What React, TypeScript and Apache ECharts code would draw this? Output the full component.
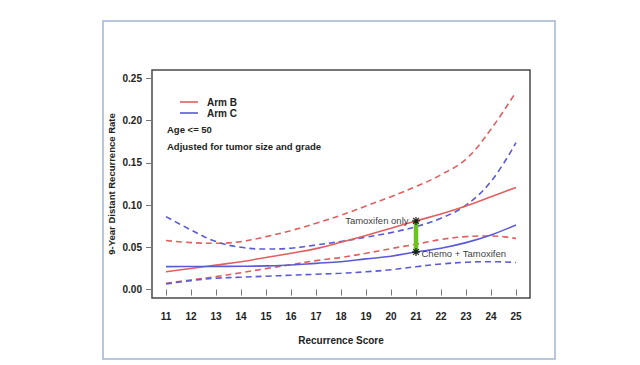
import React, { useEffect, useRef } from "react";
import * as echarts from "echarts";

const scores = [11, 12, 13, 14, 15, 16, 17, 18, 19, 20, 21, 22, 23, 24, 25];
const armBFit = [0.021, 0.025, 0.029, 0.033, 0.038, 0.043, 0.0485, 0.056, 0.064, 0.0726, 0.0813, 0.0896, 0.099, 0.11, 0.121];
const armBLower = [0.0075, 0.0114, 0.0153, 0.02, 0.0248, 0.0295, 0.0343, 0.038, 0.043, 0.0485, 0.0537, 0.0593, 0.0627, 0.0635, 0.0605];
const armBUpper = [0.058, 0.0556, 0.0548, 0.0568, 0.0627, 0.0698, 0.0785, 0.088, 0.099, 0.11, 0.122, 0.136, 0.1545, 0.19, 0.234];
const armCFit = [0.0272, 0.0273, 0.0274, 0.0276, 0.028, 0.029, 0.031, 0.033, 0.0363, 0.0395, 0.0445, 0.049, 0.0556, 0.0647, 0.0765];
const armCLower = [0.0066, 0.0106, 0.0134, 0.0146, 0.0158, 0.017, 0.0181, 0.0193, 0.021, 0.0235, 0.027, 0.0303, 0.0323, 0.033, 0.032];
const armCUpper = [0.0864, 0.0706, 0.0568, 0.05, 0.048, 0.049, 0.0528, 0.057, 0.062, 0.0674, 0.0745, 0.0845, 0.1, 0.128, 0.174];
const yTicks = [0, 0.05, 0.1, 0.15, 0.2, 0.25];
const xTicks = scores;
const highlightScore = 21;
const seriesNames = ["Arm B", "Arm C"];
const noteLines = ["Age <= 50", "Adjusted for tumor size and grade"];
const pointLabels = ["Tamoxifen only", "Chemo + Tamoxifen"];
const axisNames = ["Recurrence Score", "9-Year Distant Recurrence Rate"];

const RED = "#e0605f";
const BLUE = "#5a5ad6";
const FONT = "'Liberation Sans', Arial, sans-serif";

const pairs = (ys: number[]) => scores.map((x, i) => [x, ys[i]]);

export default function App() {
  const ref = useRef<HTMLDivElement>(null);
  useEffect(() => {
    if (!ref.current) return;
    const chart = echarts.init(ref.current, undefined, { renderer: "svg" });
    const hi = scores.indexOf(highlightScore);
    const topVal = armBFit[hi];
    const botVal = armCFit[hi];
    const dashed = (name: string, data: number[], color: string) => ({
      name,
      type: "line",
      data: pairs(data),
      smooth: 0.4,
      showSymbol: false,
      symbol: "none",
      lineStyle: { color, width: 1.6, type: [6, 4] },
      itemStyle: { color },
      z: 2,
    });
    chart.setOption({
      animation: false,
      backgroundColor: "#ffffff",
      textStyle: { fontFamily: FONT },
      grid: {
        left: 152,
        top: 70,
        width: 378,
        height: 228,
        show: true,
        borderColor: "#4a4a4a",
        borderWidth: 1.5,
        backgroundColor: "#ffffff",
        containLabel: false,
      },
      legend: {
        data: seriesNames.map((n) => ({ name: n, icon: "rect" })),
        orient: "vertical",
        left: 175,
        top: 92,
        itemWidth: 18,
        itemHeight: 1.6,
        itemGap: 1,
        textStyle: { fontFamily: FONT, fontSize: 10, fontWeight: "bold", color: "#222", padding: [0, 0, 0, 4] },
      },
      xAxis: {
        type: "value",
        min: 10.44,
        max: 25.56,
        name: axisNames[0],
        nameLocation: "middle",
        nameGap: 37,
        nameMoveOverlap: false,
        nameTextStyle: { fontFamily: FONT, fontSize: 10, fontWeight: "bold", color: "#222" },
        axisLine: { show: false },
        splitLine: { show: false },
        axisTick: { show: true, customValues: xTicks, length: 6, lineStyle: { color: "#777", width: 1 } },
        axisLabel: {
          customValues: xTicks,
          formatter: (v: number) => String(Math.round(v)),
          margin: 13,
          fontFamily: FONT,
          fontSize: 10,
          fontWeight: "bold",
          color: "#222",
        },
      },
      yAxis: {
        type: "value",
        min: -0.01,
        max: 0.26,
        name: axisNames[1],
        nameLocation: "middle",
        nameRotate: 90,
        nameGap: 36,
        nameMoveOverlap: false,
        nameTextStyle: { fontFamily: FONT, fontSize: 9.5, fontWeight: "bold", color: "#222" },
        axisLine: { show: false },
        splitLine: { show: false },
        axisTick: { show: true, customValues: yTicks, length: 6, lineStyle: { color: "#777", width: 1 } },
        axisLabel: {
          customValues: yTicks,
          formatter: (v: number) => v.toFixed(2),
          margin: 10,
          fontFamily: FONT,
          fontSize: 10,
          fontWeight: "bold",
          color: "#222",
        },
      },
      graphic: [
        {
          type: "rect",
          shape: { x: 103, y: 21, width: 452, height: 338 },
          style: { fill: "none", stroke: "#a3b4d6", lineWidth: 1.5 },
          silent: true,
          z: -1,
        },
        {
          type: "text",
          x: 167,
          y: 129,
          style: { text: noteLines[0], font: `bold 9.5px ${FONT}`, fill: "#222", textVerticalAlign: "middle" },
        },
        {
          type: "text",
          x: 167,
          y: 146,
          style: { text: noteLines[1], font: `bold 9.5px ${FONT}`, fill: "#222", textVerticalAlign: "middle" },
        },
      ],
      series: [
        dashed("Arm B lower", armBLower, RED),
        dashed("Arm B upper", armBUpper, RED),
        dashed("Arm C lower", armCLower, BLUE),
        dashed("Arm C upper", armCUpper, BLUE),
        {
          name: seriesNames[0],
          type: "line",
          data: pairs(armBFit),
          smooth: 0.4,
          showSymbol: false,
          symbol: "none",
          lineStyle: { color: RED, width: 1.6 },
          itemStyle: { color: RED },
          z: 3,
        },
        {
          name: seriesNames[1],
          type: "line",
          data: pairs(armCFit),
          smooth: 0.4,
          showSymbol: false,
          symbol: "none",
          lineStyle: { color: BLUE, width: 1.6 },
          itemStyle: { color: BLUE },
          z: 3,
        },
        {
          name: "difference",
          type: "line",
          data: [
            [highlightScore, botVal],
            [highlightScore, topVal],
          ],
          showSymbol: false,
          symbol: "none",
          lineStyle: { color: "#6cc51f", width: 4.5 },
          z: 4,
        },
        {
          name: "points",
          type: "scatter",
          symbol: "path://M0,-5L0,5M-5,0L5,0M-3.6,-3.6L3.6,3.6M-3.6,3.6L3.6,-3.6",
          symbolSize: 8,
          itemStyle: { color: "none", borderColor: "#000", borderWidth: 1.3 },
          z: 5,
          data: [
            {
              value: [highlightScore, topVal],
              label: {
                show: true,
                formatter: pointLabels[0],
                position: "left",
                distance: 1,
                fontFamily: FONT,
                fontSize: 9.5,
                color: "#000",
              },
            },
            {
              value: [highlightScore, botVal],
              label: {
                show: true,
                formatter: pointLabels[1],
                position: "right",
                distance: -1,
                offset: [0, 2],
                fontFamily: FONT,
                fontSize: 9.5,
                color: "#000",
              },
            },
          ],
        },
      ],
    });
    return () => chart.dispose();
  }, []);
  return (
    <div
      ref={ref}
      style={{ position: "fixed", left: 0, top: 0, width: 640, height: 365, background: "#fff" }}
    />
  );
}
